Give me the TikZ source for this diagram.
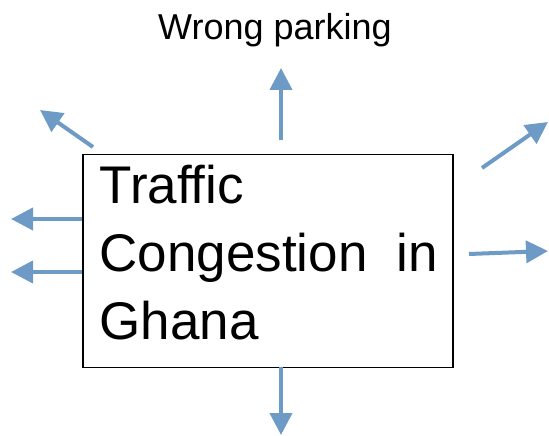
\documentclass[tikz,border=0pt]{standalone}
\usepackage{fontspec}
\setmainfont{Liberation Sans}
\usetikzlibrary{arrows.meta,
positioning}
\definecolor{arrblue}{RGB}{110,155,197}

\begin{document}
\begin{tikzpicture} [x = 1pt, y = -1pt,
  >={Triangle[width = 22pt, length = 22pt]},
  arr/.style={->, draw = arrblue, line width = 4pt},
  main node/.style={rectangle, draw, line width = 1.2pt,
      minimum width = 370pt, minimum height = 213pt}]

  \useasboundingbox (0,0) rectangle (549,436);

  \node [main node] (box) at (268,261) {};

  \node [anchor = north west, inner sep = 0, align = left,
    font = \fontsize{53}{68}\selectfont
  ] (title) at ([xshift = 17pt, yshift = -11pt]box.north west)
  {Traffic\\\hbox to 338pt{Congestion\hfill in}\\Ghana};

  \node [anchor = base west, inner sep = 0,
    font = \fontsize{36}{40}\selectfont
  ] (wrong) at (158,40) {Wrong parking};

  % free ends of the arrows
  \coordinate (upfrom) at (281,140);
  \coordinate (uptip) at (281,68);
  \coordinate (downfrom) at (281,367);
  \coordinate (downtip) at (281,435);
  \coordinate (ulfrom) at (93,147);
  \coordinate (ultip) at (40,110);
  \coordinate (lafrom) at (82,219);
  \coordinate (latip) at (11,219);
  \coordinate (lbfrom) at (82,272);
  \coordinate (lbtip) at (11,272);
  \coordinate (urfrom) at (482,168);
  \coordinate (urtip) at (548,122);
  \coordinate (rfrom) at (469,254);
  \coordinate (rtip) at (548,251);

  \draw [arr] (upfrom) -- (uptip);
  \draw [arr] (downfrom) -- (downtip);
  \draw [arr] (ulfrom) -- (ultip);
  \draw [arr] (lafrom) -- (latip);
  \draw [arr] (lbfrom) -- (lbtip);
  \draw [arr] (urfrom) -- (urtip);
  \draw [arr] (rfrom) -- (rtip);

\end{tikzpicture}
\end{document}
